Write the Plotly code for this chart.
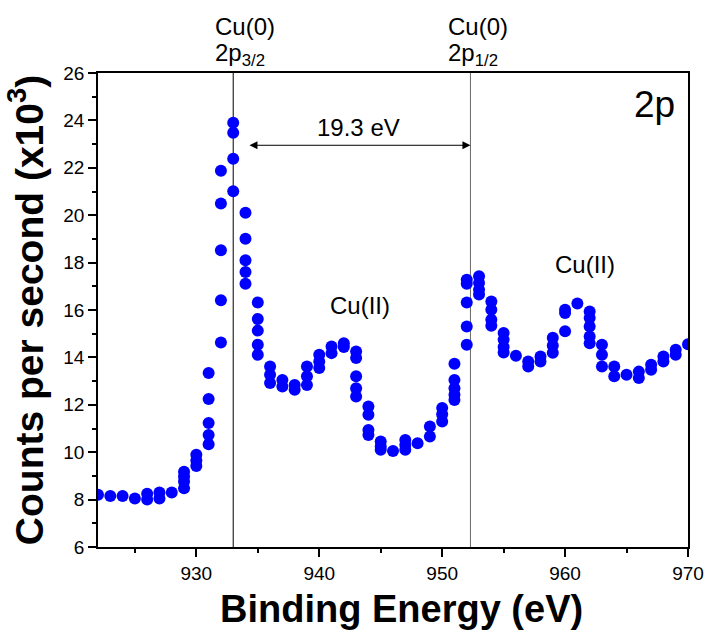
import plotly.graph_objects as go

# Binding energy columns (eV) and the counts (x10^3) measured at each
col_energy = list(range(922, 971))
col_counts = [
    [8.2], [8.15], [8.15], [8.05], [8.0, 8.25], [8.05, 8.3], [8.3],
    [8.48, 8.76, 8.97, 9.18], [9.42, 9.65, 9.89],
    [10.34, 10.73, 11.23, 12.24, 13.34],
    [14.63, 16.41, 18.52, 20.49, 21.88],
    [21.01, 22.38, 23.48, 23.9],
    [17.11, 17.6, 18.1, 19.01, 20.1],
    [14.11, 14.53, 15.13, 15.62, 16.32],
    [12.92, 13.27, 13.62], [12.77, 13.05], [12.63, 12.84],
    [12.84, 13.2, 13.62], [13.55, 13.83, 14.11], [14.18, 14.46], [14.44, 14.6],
    [12.35, 12.7, 13.2, 13.97, 14.25], [10.73, 10.94, 11.58, 11.93],
    [10.1, 10.24, 10.45], [10.05], [10.1, 10.3, 10.52], [10.38],
    [10.66, 11.08], [11.3, 11.6, 11.87],
    [12.2, 12.42, 12.7, 13.05, 13.73],
    [14.53, 15.3, 16.32, 17.11, 17.28],
    [16.65, 16.86, 17.14, 17.42], [15.34, 15.59, 16.01, 16.36],
    [14.21, 14.44, 14.75, 15.03], [14.07], [13.62, 13.83], [13.83, 14.04],
    [14.2, 14.5, 14.83], [15.1, 15.87, 16.01], [16.27],
    [14.6, 14.88, 15.3, 15.66, 15.94], [13.62, 14.11, 14.53],
    [13.2, 13.62], [13.27], [13.13, 13.4], [13.48, 13.69],
    [13.83, 14.04], [14.11, 14.32], [14.55],
]

energy = [e for e, ys in zip(col_energy, col_counts) for _ in ys]
counts = [y for ys in col_counts for y in ys]

peak_32 = 933.0
peak_12 = 952.3
arrow_start = 934.2
arrow_level = 22.95
split_label = "19.3 eV"
x_ticks = [930, 940, 950, 960, 970]
y_ticks = [6, 8, 10, 12, 14, 16, 18, 20, 22, 24, 26]

FONT = "Liberation Sans"

fig = go.Figure()
fig.add_trace(go.Scatter(
    x=energy, y=counts, mode="markers",
    marker=dict(color="#0000ff", size=12, line=dict(width=0)),
    showlegend=False,
))

for xv, col in [(peak_32, "black"), (peak_12, "#666666")]:
    fig.add_shape(type="line", xref="x", yref="paper", x0=xv, x1=xv, y0=0, y1=1,
                  line=dict(color=col, width=1), layer="below")

ann_font = dict(family=FONT, size=24, color="black")
for xv, shift, sub in [(peak_32, -20, "3/2"), (peak_12, -24, "1/2")]:
    fig.add_annotation(x=xv, xref="x", y=1.099, yref="paper", xshift=shift,
                       text="Cu(0)", showarrow=False, xanchor="left",
                       yanchor="middle", font=ann_font)
    fig.add_annotation(x=xv, xref="x", y=1.040, yref="paper", xshift=shift,
                       text="2p<sub>%s</sub>" % sub, showarrow=False,
                       xanchor="left", yanchor="middle", font=ann_font)

# double-headed arrow for the spin-orbit splitting
fig.add_annotation(x=peak_12, y=arrow_level, ax=arrow_start, ay=arrow_level,
                   xref="x", yref="y", axref="x", ayref="y", text="",
                   showarrow=True, arrowhead=2, startarrowhead=2,
                   arrowside="end+start", arrowsize=1.6, startarrowsize=1.6,
                   arrowwidth=1, arrowcolor="black", standoff=0, startstandoff=0)
fig.add_annotation(x=943.2, y=23.72, xref="x", yref="y",
                   text=split_label, showarrow=False, yanchor="middle",
                   font=ann_font)

fig.add_annotation(x=943.3, y=16.18, xref="x", yref="y", text="Cu(II)",
                   showarrow=False, yanchor="middle", font=ann_font)
fig.add_annotation(x=961.6, y=17.93, xref="x", yref="y", text="Cu(II)",
                   showarrow=False, yanchor="middle", font=ann_font)
fig.add_annotation(x=1.0, y=1.0, xref="paper", yref="paper", text="2p",
                   xshift=-11, yshift=-9,
                   showarrow=False, xanchor="right", yanchor="top",
                   font=dict(family=FONT, size=37, color="black"))

# x-axis title (placed as text so it can sit slightly right of centre)
fig.add_annotation(x=0.5, y=0, xref="paper", yref="paper", xshift=8, yshift=-62,
                   text="<b>Binding Energy (eV)</b>", showarrow=False,
                   xanchor="center", yanchor="middle",
                   font=dict(family=FONT, size=38, color="black"))

axis_common = dict(
    showline=True, linecolor="black", linewidth=1.5, mirror=True,
    showgrid=False, zeroline=False, ticks="outside", ticklen=8, tickwidth=1.5,
    tickcolor="black", tickfont=dict(family=FONT, size=19, color="black"),
    automargin=False,
)
fig.update_xaxes(range=[922, 970], tickvals=x_ticks,
                 minor=dict(dtick=5, tick0=920, ticks="outside", ticklen=4,
                            tickwidth=1.5, tickcolor="black"),
                 **axis_common)
fig.update_yaxes(range=[6, 26], tickvals=y_ticks,
                 minor=dict(dtick=1, tick0=6, ticks="outside", ticklen=4,
                            tickwidth=1.5, tickcolor="black"),
                 title=dict(text="<b>Counts per second (x10<sup>3</sup>)</b>",
                            standoff=8,
                            font=dict(family=FONT, size=39, color="black")),
                 **axis_common)

fig.update_layout(width=708, height=640, margin=dict(l=98, r=20, t=73, b=93),
                  plot_bgcolor="white", paper_bgcolor="white")

fig.write_html("out.html")
